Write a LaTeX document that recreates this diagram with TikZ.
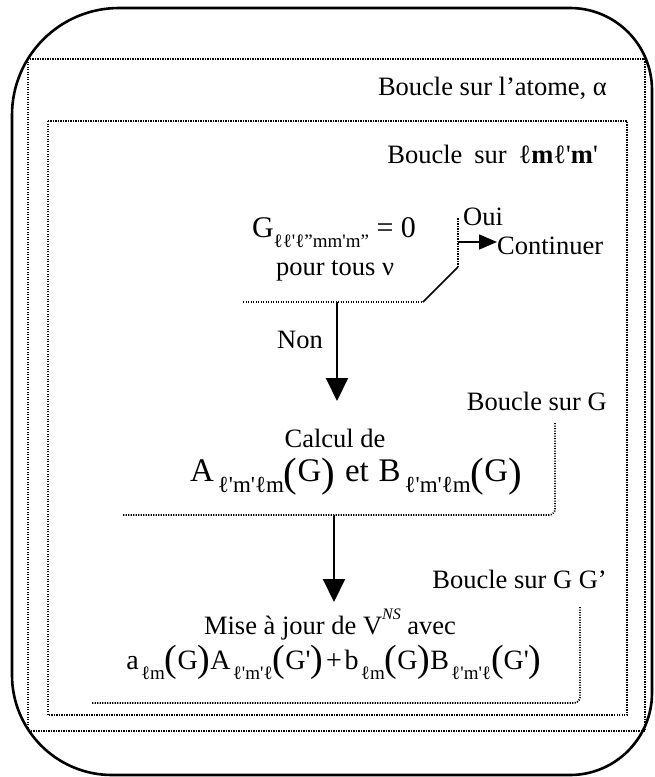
\documentclass[tikz,border=0pt]{standalone}
\usepackage{fontspec}
\setmainfont{Liberation Serif}[Ligatures=TeXOff]
\usetikzlibrary{arrows.meta}
\newcommand{\csub}[1]{\hspace{0.12em}\raisebox{-0.36em}{\fontsize{23}{23}\selectfont #1}}
\newcommand{\msub}[1]{\hspace{0.08em}\raisebox{-0.36em}{\fontsize{19}{19}\selectfont #1}}
\newcommand{\gsub}[1]{\raisebox{-0.36em}{\fontsize{19}{19}\selectfont #1}}
\newcommand{\bpar}[1]{\raisebox{-0.16em}{\fontsize{41}{41}\selectfont #1}}
\newcommand{\mpar}[1]{\raisebox{-0.1em}{\fontsize{38}{38}\selectfont #1}}
\tikzset{
  txt/.style={inner sep=0pt, font=\fontsize{26.5}{30}\selectfont},
  ftxt/.style={inner sep=0pt, font=\fontsize{30}{34}\selectfont},
  ctxt/.style={inner sep=0pt, font=\fontsize{33}{36}\selectfont},
  mtxt/.style={inner sep=0pt, font=\fontsize{28}{32}\selectfont},
  dotline/.style={line width=1.7pt, dash pattern=on 1.2pt off 1.3pt},
  solidline/.style={line width=2.6pt},
  arrbig/.style={line width=2pt, -{Triangle[length=23pt,width=22pt]}},
  arrsmall/.style={line width=1.6pt, -{Triangle[length=18pt,width=15pt]}}
}
\begin{document}
\begin{tikzpicture}[x=1pt,y=-1pt]
\useasboundingbox (0,0) rectangle (655,777);
% outer frame (canvas coordinates: canvas y = - picture y)
\draw[solidline] (119pt,-8pt) -- (570pt,-8pt)
  arc[start angle=90,end angle=0,radius=82pt] -- (652pt,-693pt)
  arc[start angle=0,end angle=-90,radius=82pt] -- (112pt,-775pt)
  arc[start angle=270,end angle=180,radius=100pt] -- (12pt,-115pt)
  arc[start angle=180,end angle=90,radius=107pt] -- cycle;
% loop frames
\draw[dotline] (28,59) rectangle (645,731);
\draw[dotline] (48,121) rectangle (627,715);
% loop labels
\node[txt, anchor=base east] (atome) at (607,95) {Boucle sur l’atome, α};
\node[txt, anchor=base east] (lmlm) at (598,163) {Boucle\hspace{0.45em}sur\hspace{0.45em}ℓ\textbf{m}ℓ'\textbf{m}'};
% condition
\node[ftxt, anchor=base] (geq) at (334,237) {G\gsub{ℓℓ'ℓ”mm'm”} = 0};
\node[txt, anchor=base] (pour) at (335,275) {pour tous ν};
\coordinate (condL) at (243,302);
\coordinate (condR) at (423,302);
\coordinate (condD) at (458,267);
\coordinate (condT) at (458,218);
\coordinate (ouiJ) at (458,242);
\draw[dotline] (condL) -- (condR);
\draw[line width=1.5pt] (condR) -- (condD);
\draw[dotline] (condD) -- (condT);
\node[txt, anchor=base west] (oui) at (463,225) {Oui};
\node[txt, anchor=base west] (cont) at (497,254) {Continuer};
\draw[arrsmall] (ouiJ) -- (cont.west |- ouiJ);
% Non arrow
\coordinate (nonS) at (337,302);
\coordinate (nonE) at (337,401);
\draw[arrbig] (nonS) -- (nonE);
\node[txt, anchor=base east] (non) at (323,348) {Non};
% Boucle sur G
\node[txt, anchor=base east] (bG) at (607,410) {Boucle sur G};
\node[txt, anchor=base] (calc1) at (335,447) {Calcul de};
\node[ctxt, anchor=base] (calc2) at (356,481) {A\csub{ℓ'm'ℓm}\bpar{(}G\bpar{)}\hspace{0.3em}et\hspace{0.3em}B\csub{ℓ'm'ℓm}\bpar{(}G\bpar{)}};
\coordinate (calcT) at (555,423);
\coordinate (calcC) at (555,515);
\coordinate (calcL) at (123,515);
\draw[dotline, rounded corners=6pt] (calcT) -- (calcC) -- (calcL);
% second arrow
\coordinate (a2S) at (334,515);
\coordinate (a2E) at (334,602);
\draw[arrbig] (a2S) -- (a2E);
% Boucle sur G G'
\node[txt, anchor=base east] (bGG) at (607,588) {Boucle sur G G’};
\node[txt, anchor=base] (maj1) at (330,634) {Mise à jour de V\raisebox{0.55em}{\fontsize{16}{16}\selectfont\textit{NS}} avec};
\node[mtxt, anchor=base] (maj2) at (334,669) {a\msub{ℓm}\mpar{(}G\mpar{)}A\msub{ℓ'm'ℓ}\mpar{(}G'\mpar{)}\hspace{0.1em}+\hspace{0.1em}b\msub{ℓm}\mpar{(}G\mpar{)}B\msub{ℓ'm'ℓ}\mpar{(}G'\mpar{)}};
\coordinate (majT) at (580,607);
\coordinate (majC) at (580,703);
\coordinate (majL) at (92,703);
\draw[dotline, rounded corners=6pt] (majT) -- (majC) -- (majL);
\end{tikzpicture}
\end{document}
